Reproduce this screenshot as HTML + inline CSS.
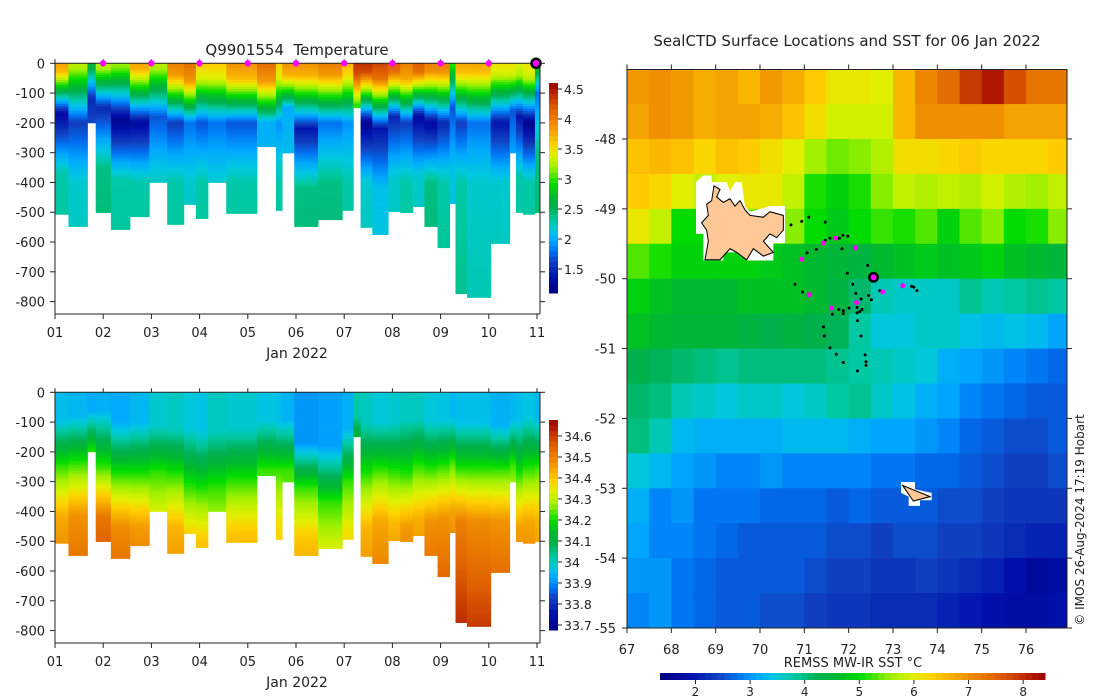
<!DOCTYPE html>
<html><head><meta charset="utf-8">
<style>
html,body{margin:0;padding:0;background:#fff;}
svg{display:block;font-family:"DejaVu Sans","Liberation Sans",sans-serif;}
text{fill:#222;font-size:13px;}
</style></head>
<body>
<svg id="chart" width="1100" height="700" viewBox="0 0 1100 700" xmlns="http://www.w3.org/2000/svg">
<rect width="1100" height="700" fill="#fff"/>
<g id="tplot"></g>
<g id="splot"></g>
<g id="map"></g>
<text x="297" y="55" text-anchor="middle" style="font-size:15px;white-space:pre">Q9901554&#160; Temperature</text>
<text x="847" y="46" text-anchor="middle" style="font-size:15px">SealCTD Surface Locations and SST for 06 Jan 2022</text>
<text x="297" y="358" text-anchor="middle" style="font-size:14px">Jan 2022</text>
<text x="297" y="687" text-anchor="middle" style="font-size:14px">Jan 2022</text>
<text x="853" y="667" text-anchor="middle">REMSS MW-IR SST °C</text>
<text transform="translate(1084,520) rotate(-90)" text-anchor="middle" style="font-size:12px">© IMOS 26-Aug-2024 17:19 Hobart</text>
</svg>
<script>
// ---------- data: profile sections ----------
const colStart=[1.000,1.279,1.673,1.845,2.160,2.554,2.956,3.328,3.672,3.923,4.173,4.553,5.191,5.585,5.713,5.964,6.458,6.960,7.189,7.340,7.583,7.913,8.163,8.421,8.665,8.937,9.188,9.309,9.546,10.040,10.434,10.563,10.706,10.957];
const colEnd=[1.279,1.673,1.845,2.160,2.554,2.956,3.328,3.672,3.923,4.173,4.553,5.191,5.585,5.713,5.964,6.458,6.960,7.189,7.340,7.583,7.913,8.163,8.421,8.665,8.937,9.188,9.309,9.546,10.040,10.434,10.563,10.706,10.957,11.043];
const maxDepth=[507,548,200,501,558,515,400,541,474,521,400,504,280,494,301,548,525,494,149,551,575,498,501,481,548,619,471,773,786,605,301,501,507,501];
const surfT=[3.8,3.3,2.7,3.3,3.2,3.8,3.3,4.0,4.1,3.6,3.6,3.9,4.1,3.6,3.9,3.9,4.0,3.7,4.4,4.4,4.3,4.2,4.0,4.2,4.0,4.0,3.0,3.8,3.8,3.5,3.5,3.4,3.5,2.8];
const mixedDepth=[30,20,10,20,15,20,20,40,60,50,50,50,60,50,40,40,40,40,40,30,50,30,50,30,30,30,10,30,30,40,40,40,50,20];
const minT=[1.3,1.6,1.5,1.5,1.2,1.3,1.7,1.6,1.8,1.7,1.8,1.7,2.0,1.9,2.0,1.4,1.8,1.9,3.0,1.2,1.4,1.5,1.6,1.3,1.3,1.5,1.7,1.6,1.8,1.4,1.7,1.4,1.2,1.8];
const minDepth=[170,200,120,150,190,200,180,200,200,200,200,200,200,200,150,220,200,200,140,200,220,180,200,180,200,200,150,200,200,200,160,180,200,100];
const deepT=[2.3,2.2,1.9,2.4,2.3,2.3,2.2,2.3,2.2,2.3,2.2,2.3,2.1,2.3,2.1,2.4,2.4,2.3,3.0,2.2,2.1,2.2,2.3,2.2,2.4,2.3,2.1,2.3,2.2,2.2,2.1,2.3,2.3,2.4];
const surfS=[33.96,33.95,33.93,33.94,33.93,33.95,33.99,34.00,33.98,33.97,34.00,33.99,33.97,33.96,33.94,33.91,33.92,33.94,34.02,34.00,33.98,33.99,34.00,34.00,33.98,33.97,33.95,33.96,33.96,33.94,33.95,33.96,33.97,33.95];
const haloTop=[90,80,60,60,100,100,110,120,120,130,130,120,90,100,90,170,180,120,80,100,100,100,90,90,100,90,80,100,100,110,90,90,80,90];
const haloBase=[250,240,200,250,280,280,270,280,320,330,320,300,260,260,260,320,370,300,200,280,260,270,280,250,260,250,230,260,260,260,240,280,260,250];
const deepS=[34.44,34.47,34.40,34.52,34.48,34.46,34.36,34.42,34.40,34.40,34.33,34.40,34.30,34.36,34.30,34.40,34.34,34.36,34.30,34.42,34.44,34.42,34.46,34.43,34.47,34.47,34.45,34.50,34.48,34.47,34.38,34.45,34.44,34.42];
const dayTicks=['01','02','03','04','05','06','07','08','09','10','11'];
const depthTicks=[0,-100,-200,-300,-400,-500,-600,-700,-800];
const profileDays=[2,3,4,5,6,7,8,9,10];
const lastProfileDay=11;
const tempTicks=[1.5,2,2.5,3,3.5,4,4.5];
const salTicks=[33.7,33.8,33.9,34,34.1,34.2,34.3,34.4,34.5,34.6];
// ---------- data: SST map ----------
const sstLon0=67, sstLat0=-47, sstStep=0.5;
const sstGrid=[
[6.9,7.0,6.9,6.7,6.8,6.6,6.9,6.7,6.4,6.1,6.1,6.0,6.6,7.1,7.4,7.9,8.2,7.7,7.3,7.3],
[6.8,7.0,6.9,6.7,6.8,6.8,6.7,6.5,6.2,5.9,5.9,5.9,6.6,7.0,7.0,7.0,7.0,6.8,6.8,6.8],
[6.5,6.6,6.5,6.3,6.5,6.4,6.2,6.0,5.6,5.4,5.5,5.7,6.2,6.2,6.3,6.4,6.3,6.3,6.3,6.4],
[6.4,6.3,6.0,5.8,6.0,6.1,6.1,5.8,5.1,4.9,5.1,5.5,5.8,5.7,5.8,5.7,5.9,5.7,5.6,5.8],
[6.1,5.8,5.0,5.0,5.0,5.4,5.6,5.5,5.0,4.8,5.0,5.2,5.1,5.3,4.9,5.3,5.5,5.0,5.1,5.5],
[5.3,5.1,4.9,4.9,4.9,4.9,4.8,4.7,4.6,4.5,4.4,4.6,4.7,4.8,4.7,4.8,4.9,4.7,4.6,4.5],
[4.9,4.7,4.6,4.6,4.6,4.7,4.7,4.7,4.6,4.4,4.1,3.7,3.6,3.6,3.6,3.9,3.7,3.8,3.9,3.8],
[4.7,4.6,4.5,4.5,4.5,4.4,4.3,4.4,4.3,4.2,3.8,3.5,3.5,3.6,3.6,3.4,3.3,3.4,3.3,3.1],
[4.3,4.2,4.1,4.0,3.9,4.0,4.0,4.0,4.0,3.9,3.8,3.7,3.6,3.5,3.2,3.1,3.0,2.9,2.8,2.7],
[4.1,4.0,3.7,3.6,3.5,3.6,3.6,3.5,3.6,3.8,3.9,3.6,3.4,3.2,3.1,2.9,2.8,2.7,2.6,2.6],
[4.0,3.7,3.3,3.2,3.2,3.2,3.2,3.3,3.3,3.3,3.2,3.1,3.1,3.0,2.9,2.7,2.6,2.5,2.5,2.6],
[3.5,3.3,3.1,3.0,2.9,2.9,3.0,2.9,2.9,2.9,2.9,2.8,2.8,2.7,2.7,2.6,2.5,2.4,2.4,2.5],
[3.2,2.9,3.0,2.8,2.8,2.8,2.7,2.7,2.7,2.6,2.7,2.6,2.6,2.6,2.5,2.5,2.4,2.3,2.3,2.3],
[3.1,2.9,2.9,2.8,2.7,2.6,2.6,2.6,2.6,2.5,2.5,2.4,2.5,2.5,2.4,2.4,2.3,2.2,2.1,2.1],
[3.0,3.0,2.8,2.7,2.6,2.6,2.6,2.6,2.5,2.4,2.4,2.3,2.3,2.4,2.3,2.2,2.1,1.9,1.7,1.8],
[2.9,3.0,2.8,2.7,2.6,2.6,2.5,2.5,2.4,2.3,2.3,2.2,2.2,2.2,2.1,2.0,1.9,1.8,1.8,1.9]];
const trackLon=[70.70,70.94,71.10,71.47,71.98,71.87,71.79,71.58,71.47,71.27,71.06,71.85,72.43,71.97,72.09,72.16,72.28,72.45,72.51,72.70,70.79,70.96,71.63,71.78,71.88,71.88,72.01,72.19,72.25,72.30,72.19,72.20,71.43,71.45,72.28,71.58,71.72,71.88,72.37,72.39,72.39,72.20,73.42,73.54,73.47];
const trackLat=[-49.23,-49.18,-49.12,-49.19,-49.39,-49.38,-49.42,-49.42,-49.45,-49.58,-49.63,-49.57,-49.81,-49.92,-50.08,-50.21,-50.29,-50.24,-50.30,-50.17,-50.08,-50.19,-50.51,-50.44,-50.46,-50.50,-50.42,-50.49,-50.47,-50.44,-50.41,-50.60,-50.69,-50.82,-50.82,-50.99,-51.08,-51.20,-51.09,-51.19,-51.24,-51.32,-50.11,-50.17,-50.12];
const surfLon=[70.94,71.43,71.70,72.15,71.11,71.61,72.18,72.77,73.22];
const surfLat=[-49.72,-49.49,-49.42,-49.56,-50.23,-50.42,-50.34,-50.19,-50.10];
const currentLon=72.56, currentLat=-49.98;
const lonTicks=[67,68,69,70,71,72,73,74,75,76];
const latTicks=[-48,-49,-50,-51,-52,-53,-54,-55];
const sstTicks=[2,3,4,5,6,7,8];

// ---------- helpers ----------
const NS='http://www.w3.org/2000/svg';
function mk(parent,tag,attrs,txt){const e=document.createElementNS(NS,tag);for(const k in attrs)e.setAttribute(k,attrs[k]);if(txt!==undefined)e.textContent=txt;parent.appendChild(e);return e;}
const stops=[[0,[0,0,128]],[0.08,[0,16,170]],[0.15,[16,64,192]],[0.2,[0,112,240]],[0.25,[0,168,255]],[0.30,[0,200,224]],[0.35,[0,200,160]],[0.41,[0,176,80]],[0.46,[0,184,48]],[0.52,[0,220,0]],[0.60,[160,240,0]],[0.66,[224,240,0]],[0.71,[255,208,0]],[0.80,[240,144,0]],[0.88,[224,96,0]],[0.94,[192,48,0]],[1,[160,0,0]]];
function cmap(t){t=Math.max(0,Math.min(1,t));for(let i=1;i<stops.length;i++){if(t<=stops[i][0]){const a=stops[i-1],b=stops[i];const f=(t-a[0])/(b[0]-a[0]);const c=a[1].map((v,j)=>Math.round(v+(b[1][j]-v)*f));return 'rgb('+c.join(',')+')';}}return 'rgb(160,0,0)';}

// ---------- section plots ----------
const X0=55,X1=540,dayPx=(537-55)/10;
const xDay=d=>X0+(d-1)*dayPx;
function tempAt(i,z){
  if(z<mixedDepth[i]) return surfT[i]-0.004*z;
  const s=surfT[i]-0.004*mixedDepth[i];
  if(z<minDepth[i]) return s+(minT[i]-s)*(z-mixedDepth[i])/(minDepth[i]-mixedDepth[i]);
  if(z<minDepth[i]+200) return minT[i]+(deepT[i]-minT[i])*(z-minDepth[i])/200;
  return deepT[i]+0.0002*(z-minDepth[i]-200);
}
function salAt(i,z){
  if(z<haloTop[i]) return surfS[i];
  if(z<haloBase[i]) return surfS[i]+(34.22-surfS[i])*(z-haloTop[i])/(haloBase[i]-haloTop[i]);
  if(z<haloBase[i]+170) return 34.22+(deepS[i]-34.22)*(z-haloBase[i])/170;
  return deepS[i]+0.00035*(z-haloBase[i]-170);
}
function section(g,top,bottom,valFn,vmin,vmax,cbTop,cbBot,ticks,tickFmt){
  const yD=d=>top+d*(301.3-63)/800;
  const cells=mk(g,'g',{});
  for(let i=0;i<colStart.length;i++){
    const x0=xDay(colStart[i]),x1=xDay(colEnd[i]);
    const col=mk(cells,'g',{});
    
    
    for(let z=0;z<maxDepth[i];z+=8){
      const z2=Math.min(z+8,maxDepth[i]);
      const v=valFn(i,z+4);
      mk(col,'rect',{x:x0.toFixed(2),y:yD(z).toFixed(2),width:(x1-x0+0.4).toFixed(2),height:(yD(z2)-yD(z)+0.4).toFixed(2),fill:cmap((v-vmin)/(vmax-vmin))});
    }
  }
  const ax=mk(g,'g',{stroke:'#222','stroke-width':1,fill:'none'});
  
  
  mk(ax,'path',{d:`M${X0},${top}H${X1}M${X0},${top}V${bottom}H${X1}M${X1},${top}V${bottom}`});
  dayTicks.forEach((lab,k)=>{
    const x=xDay(k+1);
    mk(ax,'line',{x1:x,x2:x,y1:bottom,y2:bottom+5});
    mk(ax,'line',{x1:x,x2:x,y1:top,y2:top-4});
    const t=mk(g,'text',{x:x,y:bottom+23,'text-anchor':'middle'},lab);
    
    
  });
  depthTicks.forEach(d=>{
    const y=yD(-d);
    mk(ax,'line',{x1:X0-5,x2:X0,y1:y,y2:y});
    mk(ax,'line',{x1:X1,x2:X1+5,y1:y,y2:y});
    const t=mk(g,'text',{x:X0-10,y:y+5,'text-anchor':'end'},String(d));
    
    
  });
  const cb=mk(g,'g',{});
  
  
  const n=40;
  for(let k=0;k<n;k++){
    const y0=cbBot-(k+1)*(cbBot-cbTop)/n;
    mk(cb,'rect',{x:549,y:y0.toFixed(2),width:9,height:((cbBot-cbTop)/n+0.5).toFixed(2),fill:cmap((k+0.5)/n)});
  }
  ticks.forEach(v=>{
    const y=cbBot-(v-vmin)/(vmax-vmin)*(cbBot-cbTop);
    mk(cb,'line',{x1:558,x2:562,y1:y,y2:y,stroke:'#222'});
    const t=mk(cb,'text',{x:564,y:y+5,style:'font-size:12.5px'},tickFmt(v));
    
    
  });
  return yD;
}
const tg=document.getElementById('tplot');
section(tg,63.3,314,tempAt,1.1,4.6,83,293,tempTicks,v=>String(v));
profileDays.forEach(d=>{
  const c=mk(tg,'circle',{cx:xDay(d),cy:63.3,r:3.2,fill:'#ff00ff'});
  
  
});
const cur=mk(tg,'circle',{cx:xDay(lastProfileDay)-1,cy:63.3,r:4.5,fill:'#ff00ff',stroke:'#000','stroke-width':2.5});


const sg=document.getElementById('splot');
section(sg,392.3,643,salAt,33.676,34.676,420,630,salTicks,v=>(Math.round(v*10)/10).toString());

// ---------- map ----------
const mg=document.getElementById('map');
const MX0=627,MX1=1067,MY0=69.5,MY1=628;
const lonX=l=>MX0+(l-67)*(1026-627)/9;
const latY=l=>139+(-48-l)*(628-139)/7;
const sMin=1.35,sMax=8.4;
const cellsG=mk(mg,'g',{});


sstGrid.forEach((row,r)=>row.forEach((v,c)=>{
  const lo=sstLon0+c*sstStep, la=sstLat0-r*sstStep;
  const x0=lonX(lo),x1=Math.min(lonX(lo+sstStep),MX1),y0=Math.max(latY(la),MY0),y1=latY(la-sstStep);
  const rc=mk(cellsG,'rect',{x:x0.toFixed(2),y:y0.toFixed(2),width:(x1-x0+0.5).toFixed(2),height:(y1-y0+0.5).toFixed(2),fill:cmap((v-sMin)/(sMax-sMin))});
  
  
}));
const isl=mk(mg,'g',{transform:'translate(620,60) scale(0.33333,0.37)'});


mk(isl,'polygon',{points:'228,330 250,312 275,312 275,330 320,330 330,355 345,330 365,330 375,395 390,410 450,395 495,395 495,495 460,495 460,542 380,542 380,520 310,520 310,542 250,542 250,470 228,470',fill:'#fff'});
const kg=mk(isl,'polygon',{points:'282,340 300,350 290,370 310,385 330,375 345,395 360,380 375,405 390,420 430,425 450,410 490,420 490,460 470,480 450,470 430,490 460,520 430,530 400,510 380,540 350,520 330,510 300,540 255,540 265,490 260,460 245,440 265,420 260,390 275,380',fill:'#ffc896',stroke:'#000','stroke-width':3});


mk(isl,'polygon',{points:'843,1141 885,1141 885,1160 935,1170 935,1190 900,1190 900,1205 866,1205 866,1180 843,1170',fill:'#fff'});
const hd=mk(isl,'polygon',{points:'848,1150 930,1180 880,1192',fill:'#ffc896',stroke:'#000','stroke-width':3});


trackLon.forEach((lo,k)=>{
  const c=mk(mg,'circle',{cx:lonX(lo).toFixed(1),cy:latY(trackLat[k]).toFixed(1),r:1.5,fill:'#000'});
  
  
});
surfLon.forEach((lo,k)=>{
  const c=mk(mg,'circle',{cx:lonX(lo).toFixed(1),cy:latY(surfLat[k]).toFixed(1),r:2.5,fill:'#ff00ff'});
  
  
});
const cl=mk(mg,'circle',{cx:lonX(currentLon),cy:latY(currentLat),r:4.2,fill:'#ff00ff',stroke:'#000','stroke-width':2.5});


const mf=mk(mg,'g',{stroke:'#222',fill:'none'});


mk(mf,'rect',{x:MX0,y:MY0,width:MX1-MX0,height:MY1-MY0});
lonTicks.forEach(l=>{
  const x=lonX(l);
  mk(mf,'line',{x1:x,x2:x,y1:MY1,y2:MY1+5});
  mk(mf,'line',{x1:x,x2:x,y1:MY0,y2:MY0-5});
  const t=mk(mg,'text',{x:x,y:654,'text-anchor':'middle'},String(l));
  
  
});
latTicks.forEach(l=>{
  const y=latY(l);
  mk(mf,'line',{x1:MX0-5,x2:MX0,y1:y,y2:y});
  mk(mf,'line',{x1:MX1,x2:MX1+5,y1:y,y2:y});
  const t=mk(mg,'text',{x:616,y:y+5,'text-anchor':'end'},String(l));
  
  
});
const scb=mk(mg,'g',{});


const CB0=660,CB1=1045,nb=60;
for(let k=0;k<nb;k++){
  mk(scb,'rect',{x:(CB0+k*(CB1-CB0)/nb).toFixed(2),y:673,width:((CB1-CB0)/nb+0.5).toFixed(2),height:7,fill:cmap((k+0.5)/nb)});
}
sstTicks.forEach(v=>{
  const x=CB0+(v-sMin)/(sMax-sMin)*(CB1-CB0);
  mk(scb,'line',{x1:x,x2:x,y1:680,y2:684,stroke:'#222'});
  const t=mk(scb,'text',{x:x,y:696,'text-anchor':'middle',style:'font-size:12px'},String(v));
  
  
});
</script>
</body></html>
